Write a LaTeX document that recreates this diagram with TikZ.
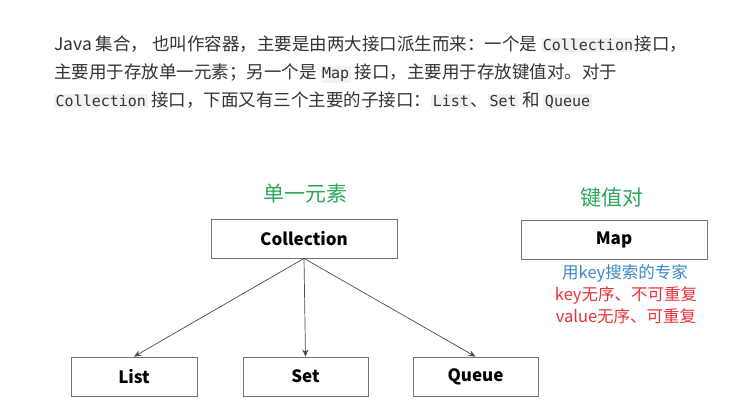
\documentclass[tikz,border=0pt]{standalone}
\usepackage{fontspec}
\setmainfont{Noto Sans CJK SC}
\newfontfamily\cjk{Noto Sans CJK SC}
\newfontfamily\codef{DejaVu Sans Mono}
\usetikzlibrary{arrows.meta}
\definecolor{grn}{HTML}{2BA85A}
\definecolor{blu}{HTML}{3D87C9}
\definecolor{rd}{HTML}{E8333A}
\definecolor{codebg}{HTML}{F2F2F2}
\definecolor{txt}{HTML}{333333}
\newcommand{\cd}[1]{{\setlength{\fboxsep}{1.5pt}\colorbox{codebg}{\codef\fontsize{15}{15}\selectfont #1}}}
\tikzset{
 cbox/.style={draw=black!55, line width=0.8pt, minimum width=#1, minimum height=39pt, inner sep=0pt, font=\cjk\bfseries\fontsize{17}{17}\selectfont},
 para/.style={anchor=west, inner sep=0pt, font=\cjk\fontsize{17.5}{17.5}\selectfont, text=txt},
 lab/.style={font=\cjk\fontsize{16.5}{16.5}\selectfont},
 conn/.style={draw=black!70, line width=0.7pt, -{Stealth[length=7pt,width=6pt]}}
}
\begin{document}
\begin{tikzpicture}[x=1pt,y=-1pt]
\useasboundingbox[fill=white] (0,0) rectangle (739,400);
\node[para] (l1) at (54,44) {Java 集合， 也叫作容器，主要是由两大接口派生而来：一个是 \cd{Collection}接口，};
\node[para] (l2) at (54,73) {主要用于存放单一元素；另一个是 \cd{Map} 接口，主要用于存放键值对。对于};
\node[para] (l3) at (54,101) {\cd{Collection} 接口，下面又有三个主要的子接口：\cd{List}、\cd{Set} 和 \cd{Queue}};

\node[cbox=186pt] (coll) at (304,238.5) {Collection};
\node[cbox=186pt] (map) at (614,239.5) {Map};
\node[cbox=126pt] (list) at (134,376.5) {List};
\node[cbox=125pt] (set) at (305.5,376.5) {Set};
\node[cbox=125pt] (queue) at (475.5,376.5) {Queue};

\node[font=\cjk\fontsize{21}{21}\selectfont, text=grn] (t1) at (305,193) {单一元素};
\node[font=\cjk\fontsize{21}{21}\selectfont, text=grn] (t2) at (612,198) {键值对};
\node[lab, text=blu] (m1) at (625,273) {用key搜索的专家};
\node[lab, text=rd] (m2) at (626,295) {key无序、不可重复};
\node[lab, text=rd] (m3) at (626,316) {value无序、可重复};

\draw[conn] (coll.south) -- (list.north);
\draw[conn] (coll.south) -- (set.north);
\draw[conn] (coll.south) -- (queue.north);
\end{tikzpicture}
\end{document}
